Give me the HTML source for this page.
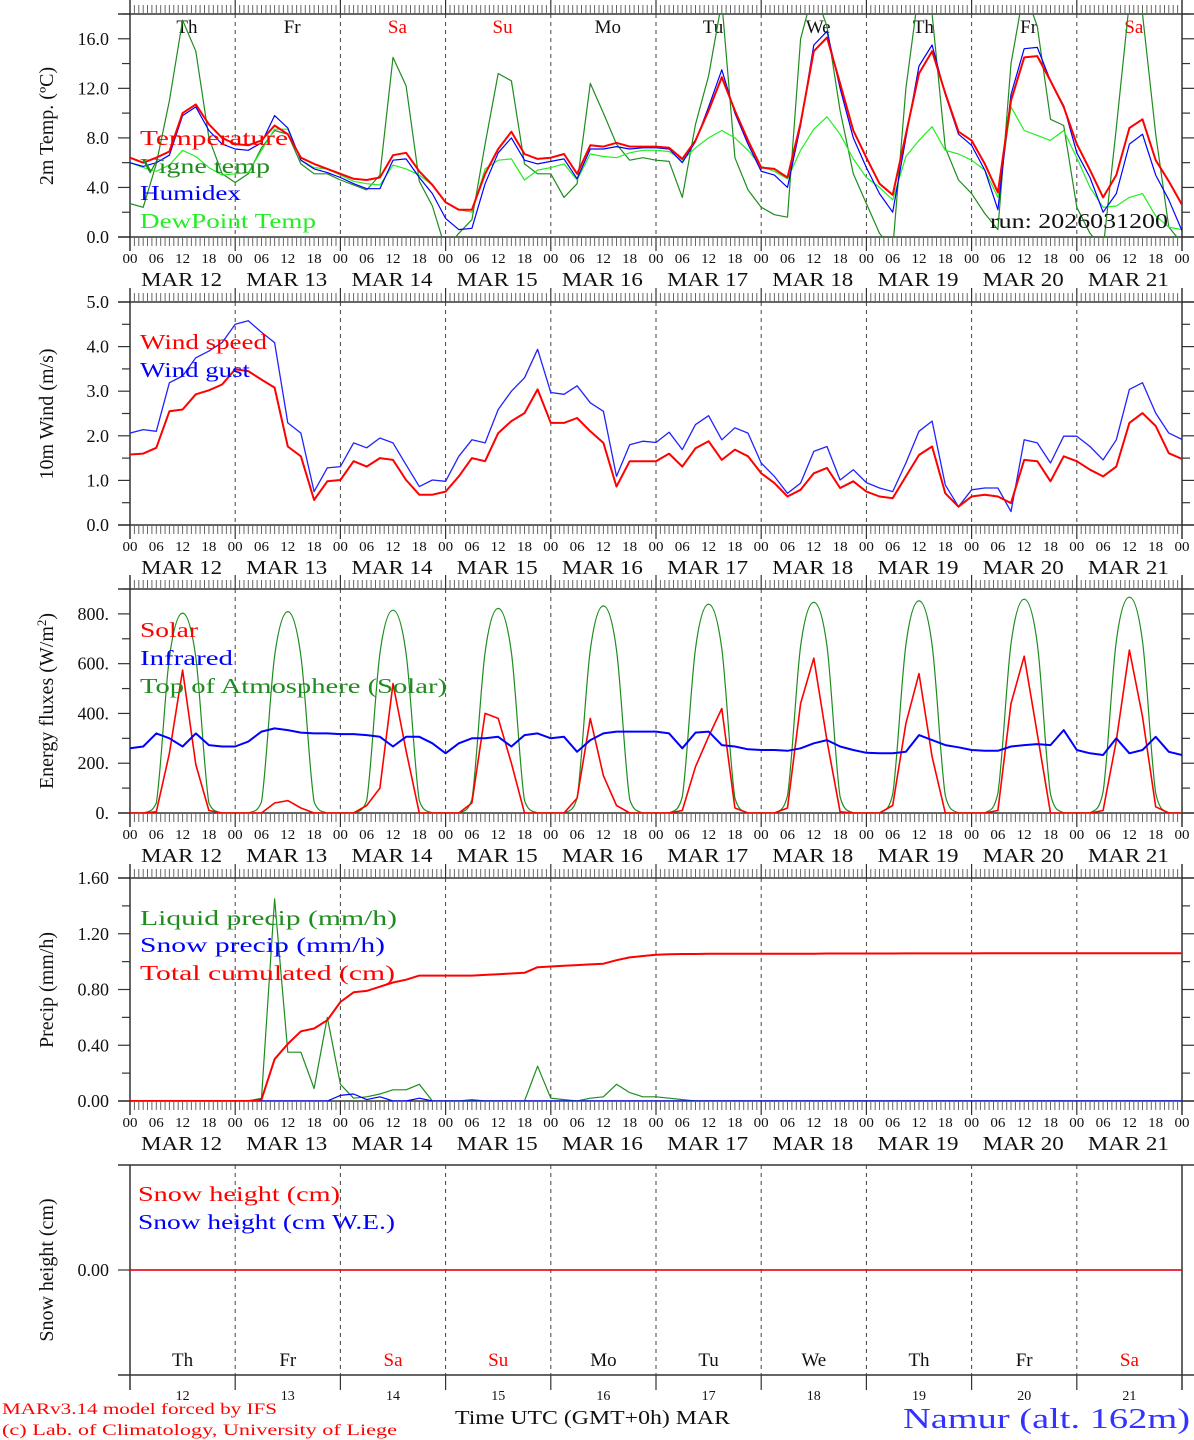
<!DOCTYPE html>
<html><head><meta charset="utf-8"><title>MAR meteogram Namur</title>
<style>
html,body{margin:0;padding:0;background:#fff;}
svg{display:block;font-family:"Liberation Serif","DejaVu Serif",serif;}
</style></head>
<body>
<svg id="chart" width="1194" height="1440" viewBox="0 0 1194 1440" xmlns="http://www.w3.org/2000/svg">
<defs>
<clipPath id="c1"><rect x="130" y="14" width="1052" height="223"/></clipPath>
<clipPath id="c2"><rect x="130" y="302" width="1052" height="223"/></clipPath>
<clipPath id="c3"><rect x="130" y="589" width="1052" height="224"/></clipPath>
<clipPath id="c4"><rect x="130" y="878" width="1052" height="223"/></clipPath>
<clipPath id="c5"><rect x="130" y="1165" width="1052" height="210"/></clipPath>
</defs>
<g id="root"></g>
</svg>
<script>
// ---- data (3-hourly, 81 points, Mar 12 00 UTC -> Mar 22 00 UTC) ----
const dayNames = ['Th','Fr','Sa','Su','Mo','Tu','We','Th','Fr','Sa'];
const dayNums = ['12','13','14','15','16','17','18','19','20','21'];
const hourLabels = ['00','06','12','18'];
const tempTicks = ['0.0','4.0','8.0','12.0','16.0'];
const windTicks = ['0.0','1.0','2.0','3.0','4.0','5.0'];
const fluxTicks = ['0.','200.','400.','600.','800.'];
const precTicks = ['0.00','0.40','0.80','1.20','1.60'];

const temperature = [6.4,6.0,6.4,6.9,10.0,10.7,9.1,8.0, 7.5,7.4,7.8,9.0,8.3,6.4,5.9,5.5, 5.1,4.7,4.6,4.8,6.6,6.8,5.3,4.2, 2.8,2.2,2.2,5.1,7.1,8.5,6.7,6.3, 6.4,6.7,5.1,7.4,7.3,7.6,7.3,7.3, 7.3,7.2,6.3,7.8,10.2,12.9,10.2,7.8, 5.6,5.5,4.8,9.2,15.0,16.1,12.4,8.6, 6.4,4.3,3.4,8.3,13.2,15.0,11.6,8.5, 7.8,5.9,3.6,11.0,14.5,14.6,12.6,10.5, 7.5,5.4,3.2,5.0,8.8,9.5,6.2,4.5, 2.6];
const vigneTemp = [2.7,2.4,5.9,11.0,17.5,15.0,8.0,5.1, 4.4,5.1,7.2,8.6,8.3,5.9,5.1,5.1, 4.6,4.2,3.8,5.0,14.5,12.2,4.5,2.5, -1.0,0.3,1.4,7.5,13.2,12.6,5.9,5.1, 5.1,3.2,4.3,12.4,10.0,7.5,6.2,6.4, 6.2,6.1,3.2,9.1,13.0,19.0,6.4,3.8, 2.4,1.8,1.6,16.0,20.0,17.0,10.2,5.1, 2.7,0.3,-1.0,12.0,20.0,18.0,7.2,4.6, 3.5,1.9,0.6,14.0,20.0,17.0,9.5,9.0, 2.4,0.3,-1.0,8.8,19.0,18.0,8.3,0.8, -0.5];
const humidex = [6.0,5.7,6.0,6.6,9.8,10.5,8.6,7.5, 7.1,7.0,7.6,9.8,8.8,6.2,5.5,5.2, 4.8,4.3,3.9,3.9,6.2,6.3,4.8,3.5, 1.5,0.6,0.7,4.3,6.8,8.0,6.2,5.9, 6.1,6.3,4.7,7.1,7.1,7.3,7.1,7.2, 7.2,7.1,6.0,7.7,10.5,13.5,10.0,7.5, 5.3,5.0,4.0,9.0,15.5,16.6,12.0,8.0, 5.6,3.5,2.0,8.0,13.8,15.5,11.5,8.3, 7.4,5.4,2.2,11.5,15.2,15.3,12.6,10.6, 6.8,4.8,2.0,3.5,7.5,8.3,5.0,3.0, 0.5];
const dewPoint = [6.0,5.6,5.3,5.8,7.0,6.5,5.6,5.0, 5.1,5.2,7.0,8.7,8.7,6.2,5.6,5.5, 5.0,4.5,4.3,4.2,5.8,5.5,5.0,4.2, 2.8,2.2,2.0,5.5,6.2,6.3,4.6,5.4, 5.6,5.9,4.6,6.7,6.5,6.4,6.8,7.0, 7.0,6.9,6.2,7.2,8.0,8.6,8.0,7.0, 5.7,5.3,4.7,7.0,8.7,9.7,8.3,6.3, 4.8,4.0,3.0,6.5,7.8,8.9,7.0,6.7, 6.2,5.4,3.2,10.5,8.6,8.2,7.8,8.6, 6.4,4.0,2.4,2.5,3.2,3.5,1.7,0.8, 0.6];

const windSpeed = [1.58,1.6,1.73,2.55,2.59,2.93,3.02,3.15, 3.49,3.45,3.26,3.08,1.76,1.54,0.56,0.98, 1.01,1.43,1.31,1.5,1.46,1.01,0.68,0.68, 0.75,1.09,1.5,1.43,2.06,2.33,2.51,3.04, 2.29,2.29,2.4,2.1,1.84,0.86,1.43,1.43, 1.43,1.6,1.31,1.72,1.88,1.46,1.69,1.54, 1.16,0.94,0.64,0.79,1.16,1.28,0.83,0.98, 0.75,0.64,0.6,1.09,1.57,1.76,0.71,0.41, 0.64,0.68,0.64,0.49,1.46,1.43,0.98,1.54, 1.43,1.24,1.09,1.31,2.29,2.51,2.22,1.61, 1.48];
const windGust = [2.06,2.14,2.1,3.19,3.34,3.75,3.9,4.09, 4.5,4.58,4.32,4.09,2.29,2.06,0.75,1.28, 1.31,1.84,1.73,1.95,1.84,1.35,0.86,1.01, 0.98,1.54,1.91,1.84,2.59,3.0,3.3,3.94, 2.97,2.93,3.12,2.74,2.55,1.09,1.8,1.88, 1.85,2.08,1.69,2.25,2.45,1.91,2.18,2.06, 1.39,1.09,0.71,0.94,1.65,1.76,1.01,1.24, 0.95,0.83,0.75,1.39,2.1,2.33,0.9,0.41, 0.79,0.83,0.83,0.3,1.91,1.84,1.39,1.99, 1.99,1.76,1.46,1.91,3.04,3.19,2.51,2.06, 1.92];

const solar = [0,0,5,240,574,195,10,0, 0,0,0,40,50,20,0,0, 0,0,30,100,520,250,0,0, 0,0,40,400,380,200,0,0, 0,0,60,380,150,30,0,0, 0,0,10,186,307,420,20,0, 0,0,20,440,622,290,5,0, 0,0,30,360,560,226,0,0, 0,0,10,440,630,318,0,0, 0,0,10,290,655,387,25,0, 0];
const infrared = [260,267,320,300,267,320,273,267, 267,287,327,340,333,323,320,320, 317,317,313,306,267,306,306,280, 240,280,300,300,306,267,313,320, 300,306,246,293,320,327,327,327, 327,320,260,323,327,273,267,256, 253,253,250,260,280,293,267,253, 242,240,240,246,313,293,273,264, 253,250,250,267,273,277,273,333, 253,240,233,300,240,253,306,246, 233];
const topOfAtmosphere = [0,0,40,625,803,625,40,0, 0,0,45,630,809,630,45,0, 0,0,50,640,815,640,50,0, 0,0,55,645,822,645,50,0, 0,0,60,655,832,655,55,0, 0,0,65,660,839,660,60,0, 0,0,70,670,846,670,65,0, 0,0,75,675,852,675,70,0, 0,0,80,680,859,680,75,0, 0,0,85,690,867,690,80,0, 0];

const liquidPrecip = [0,0,0,0,0,0,0,0, 0,0,0.02,1.45,0.35,0.35,0.09,0.6, 0.12,0.02,0.03,0.05,0.08,0.08,0.12,0, 0,0,0.01,0,0,0,0,0.25, 0.02,0.01,0,0.02,0.03,0.12,0.06,0.03, 0.03,0.02,0.01,0,0,0,0,0, 0,0,0,0,0,0,0,0, 0,0,0,0,0,0,0,0, 0,0,0,0,0,0,0,0, 0,0,0,0,0,0,0,0, 0];
const snowPrecip = [0,0,0,0,0,0,0,0, 0,0,0,0,0,0,0,0, 0.04,0.05,0.01,0.03,0,0,0.02,0, 0,0,0,0,0,0,0,0, 0,0,0,0,0,0,0,0, 0,0,0,0,0,0,0,0, 0,0,0,0,0,0,0,0, 0,0,0,0,0,0,0,0, 0,0,0,0,0,0,0,0, 0,0,0,0,0,0,0,0, 0];
const totalCumulated = [0,0,0,0,0,0,0,0, 0,0,0.01,0.3,0.41,0.5,0.52,0.58, 0.71,0.78,0.79,0.82,0.85,0.87,0.9,0.9, 0.9,0.9,0.9,0.905,0.91,0.915,0.92,0.96, 0.965,0.97,0.975,0.98,0.985,1.01,1.03,1.04, 1.05,1.053,1.055,1.055,1.056,1.056,1.056,1.056, 1.057,1.057,1.057,1.057,1.057,1.058,1.058,1.058, 1.058,1.058,1.058,1.059,1.059,1.059,1.059,1.059, 1.059,1.06,1.06,1.06,1.06,1.06,1.06,1.06, 1.06,1.06,1.06,1.06,1.06,1.06,1.06,1.06, 1.06];
const snowHeight = [0,0,0,0,0,0,0,0, 0,0,0,0,0,0,0,0, 0,0,0,0,0,0,0,0, 0,0,0,0,0,0,0,0, 0,0,0,0,0,0,0,0, 0,0,0,0,0,0,0,0, 0,0,0,0,0,0,0,0, 0,0,0,0,0,0,0,0, 0,0,0,0,0,0,0,0, 0,0,0,0,0,0,0,0, 0];

// ---- layout ----
const NS = 'http://www.w3.org/2000/svg';
const root = document.getElementById('root');
const X0 = 130, X1 = 1182, NPTS = 81;
function xIdx(i){ return X0 + i * (X1 - X0) / (NPTS - 1); }
function xHour(h){ return X0 + h * (X1 - X0) / 240; }
const panels = [
  {id:'temp', top:14, bot:237, min:0, max:18, clip:'c1'},
  {id:'wind', top:302, bot:525, min:0, max:5, clip:'c2'},
  {id:'flux', top:589, bot:813, min:0, max:900, clip:'c3'},
  {id:'precip', top:878, bot:1101, min:0, max:1.6, clip:'c4'},
  {id:'snow', top:1165, bot:1375, min:-1, max:1, clip:'c5'}
];
function yOf(p, v){ return p.bot - (v - p.min) / (p.max - p.min) * (p.bot - p.top); }

function mk(tag, attrs, parent){
  const e = document.createElementNS(NS, tag);
  for (const k in attrs) e.setAttribute(k, attrs[k]);
  (parent || root).appendChild(e);
  return e;
}
function txt(s, x, y, size, fill, opts, name){
  opts = opts || {};
  const e = mk('text', {x:x, y:y, 'font-size':size, fill:fill, 'text-anchor':opts.anchor || 'start'});
  if (opts.len){ e.setAttribute('textLength', opts.len); e.setAttribute('lengthAdjust', 'spacingAndGlyphs'); }
  if (opts.rot) e.setAttribute('transform', 'rotate(-90 ' + x + ' ' + y + ')');
  e.textContent = s;
  
  
  return e;
}
function linePath(p, arr, color, w, name, smooth){
  let d = '';
  const pts = arr.map((v, i) => [xIdx(i), yOf(p, v)]);
  if (!smooth){
    pts.forEach((q, i) => { d += (i ? 'L' : 'M') + q[0].toFixed(1) + ' ' + q[1].toFixed(1); });
  } else {
    d = 'M' + pts[0][0] + ' ' + pts[0][1];
    for (let i = 0; i < pts.length - 1; i++){
      const p0 = pts[Math.max(0, i - 1)], p1 = pts[i], p2 = pts[i + 1], p3 = pts[Math.min(pts.length - 1, i + 2)];
      let c1y = p1[1] + (p2[1] - p0[1]) / 6, c2y = p2[1] - (p3[1] - p1[1]) / 6;
      const lim = yOf(p, 0);
      c1y = Math.min(c1y, lim); c2y = Math.min(c2y, lim);
      d += 'C' + (p1[0] + (p2[0] - p0[0]) / 6).toFixed(1) + ' ' + c1y.toFixed(1) + ' ' + (p2[0] - (p3[0] - p1[0]) / 6).toFixed(1) + ' ' + c2y.toFixed(1) + ' ' + p2[0].toFixed(1) + ' ' + p2[1].toFixed(1);
    }
  }
  const e = mk('path', {d:d, fill:'none', stroke:color, 'stroke-width':w, 'clip-path':'url(#' + p.clip + ')', 'stroke-linejoin':'round'});
  
  
  return e;
}

// ---- frames, ticks, day separators ----
panels.forEach((p, pi) => {
  const g = mk('g', {});
  
  
  mk('line', {x1:118, y1:p.top, x2:1194, y2:p.top, stroke:'#333', 'stroke-width':1.5}, g);
  mk('line', {x1:118, y1:p.bot, x2:1194, y2:p.bot, stroke:'#333', 'stroke-width':1.5}, g);
  mk('line', {x1:X0, y1:p.top - (pi === 4 ? 0 : 14), x2:X0, y2:p.bot + (pi === 4 ? 15 : 14), stroke:'#333', 'stroke-width':1.5}, g);
  mk('line', {x1:X1, y1:p.top - (pi === 4 ? 0 : 14), x2:X1, y2:p.bot + (pi === 4 ? 15 : 14), stroke:'#333', 'stroke-width':1.5}, g);
  for (let d = 1; d < 10; d++){
    const x = xHour(d * 24);
    mk('line', {x1:x, y1:p.top, x2:x, y2:p.bot, stroke:'#444', 'stroke-width':1, 'stroke-dasharray':'4,4'}, g);
    mk('line', {x1:x, y1:p.top - (pi === 4 ? 0 : 14), x2:x, y2:p.top, stroke:'#333', 'stroke-width':1.2}, g);
    mk('line', {x1:x, y1:p.bot, x2:x, y2:p.bot + (pi === 4 ? 15 : 14), stroke:'#333', 'stroke-width':1.2}, g);
  }
  if (pi < 4){
    let d = '';
    for (let h = 1; h < 240; h++){
      if (h % 24 === 0) continue;
      const x = xHour(h).toFixed(1);
      d += 'M' + x + ' ' + (p.top - 9) + 'V' + p.top + 'M' + x + ' ' + p.bot + 'V' + (p.bot + 9);
    }
    mk('path', {d:d, stroke:'#666', 'stroke-width':1}, g);
    // hour and date labels
    for (let day = 0; day <= 10; day++){
      for (let k = 0; k < 4; k++){
        if (day === 10 && k > 0) break;
        txt(hourLabels[k], xHour(day * 24 + k * 6), p.bot + 26, 14, '#111', {anchor:'middle', len:15}, 'hour-tick-label');
      }
      if (day < 10) txt('MAR ' + dayNums[day], xHour(day * 24 + 12) - 1, p.bot + 49, 20, '#111', {anchor:'middle', len:81}, 'date-label');
    }
  }
});

// y ticks
function yTicks(p, labels, step, minor){
  for (let v = p.min; v <= p.max + 1e-9; v += minor){
    const y = yOf(p, v);
    const isMajor = Math.abs(v / step - Math.round(v / step)) < 1e-6;
    mk('line', {x1:isMajor ? 118 : 122, y1:y, x2:X0, y2:y, stroke:'#333', 'stroke-width':1.2});
    mk('line', {x1:X1, y1:y, x2:isMajor ? 1194 : 1190, y2:y, stroke:'#333', 'stroke-width':1.2});
  }
  labels.forEach((s, i) => {
    txt(s, 109, yOf(p, i * step) + 6, 18, '#111', {anchor:'end'}, 'y-tick-label');
  });
}
yTicks(panels[0], tempTicks, 4, 2);
yTicks(panels[1], windTicks, 1, 0.5);
yTicks(panels[2], fluxTicks, 200, 100);
yTicks(panels[3], precTicks, 0.4, 0.2);
mk('line', {x1:118, y1:1270, x2:X0, y2:1270, stroke:'#333', 'stroke-width':1.2});
txt('0.00', 109, 1276, 18, '#111', {anchor:'end'}, 'y-tick-label');

// y titles
txt('2m Temp. (\u00BAC)', 53, 126, 20, '#111', {anchor:'middle', rot:true}, 'y-axis-title-temp');
txt('10m Wind (m/s)', 53, 414, 20, '#111', {anchor:'middle', rot:true}, 'y-axis-title-wind');
const ft = txt('Energy fluxes (W/m', 53, 701, 20, '#111', {anchor:'middle', rot:true}, 'y-axis-title-flux');
const sup = document.createElementNS(NS, 'tspan'); sup.setAttribute('dy', '-7'); sup.setAttribute('font-size', '13'); sup.textContent = '2';
ft.appendChild(sup);
const cl = document.createElementNS(NS, 'tspan'); cl.setAttribute('dy', '7'); cl.textContent = ')';
ft.appendChild(cl);
txt('Precip (mm/h)', 53, 990, 20, '#111', {anchor:'middle', rot:true}, 'y-axis-title-precip');
txt('Snow height (cm)', 53, 1270, 20, '#111', {anchor:'middle', rot:true}, 'y-axis-title-snow');

// day names
dayNames.forEach((n, i) => {
  const col = (n === 'Sa' || n === 'Su') ? '#ff0000' : '#111';
  txt(n, xHour(i * 24 + 13), 33, 19, col, {anchor:'middle'}, 'weekday-label');
  txt(n, xHour(i * 24 + 12), 1366, 19, col, {anchor:'middle'}, 'weekday-label');
  txt(dayNums[i], xHour(i * 24 + 12), 1400, 14, '#111', {anchor:'middle'}, 'day-number');
});

// ---- series ----
const P = panels;
linePath(P[0], vigneTemp, '#1e8c1e', 1.2, 'vigne-temp-line');
linePath(P[0], dewPoint, '#22ee22', 1.2, 'dewpoint-line');
linePath(P[0], humidex, '#0000ff', 1.2, 'humidex-line');
linePath(P[0], temperature, '#ff0000', 2, 'temperature-line');

linePath(P[1], windGust, '#2222ff', 1.3, 'wind-gust-line');
linePath(P[1], windSpeed, '#ff0000', 2, 'wind-speed-line');

linePath(P[2], topOfAtmosphere, '#1e8c1e', 1.2, 'toa-solar-line', true);
linePath(P[2], solar, '#ff0000', 1.6, 'solar-line');
linePath(P[2], infrared, '#0000ff', 2, 'infrared-line');

linePath(P[3], liquidPrecip, '#1e8c1e', 1.2, 'liquid-precip-line');
linePath(P[3], snowPrecip, '#0000ff', 1.2, 'snow-precip-line');
linePath(P[3], totalCumulated, '#ff0000', 2, 'total-cumulated-line');

linePath(P[4], snowHeight, '#0000ff', 1.2, 'snow-height-we-line');
linePath(P[4], snowHeight, '#ff0000', 1.6, 'snow-height-line');

// ---- legends ----
txt('Temperature', 140, 145, 21, '#ff0000', {len:148}, 'legend-temperature');
txt('Vigne temp', 140, 173, 21, '#1e8c1e', {len:130}, 'legend-vigne-temp');
txt('Humidex', 140, 200, 21, '#0000ff', {len:101}, 'legend-humidex');
txt('DewPoint Temp', 140, 228, 21, '#22ee22', {len:176}, 'legend-dewpoint');
txt('run: 2026031200', 990, 228, 21, '#111', {len:178}, 'run-label');

txt('Wind speed', 140, 349, 21, '#ff0000', {len:127}, 'legend-wind-speed');
txt('Wind gust', 140, 377, 21, '#0000ff', {len:110}, 'legend-wind-gust');

txt('Solar', 140, 637, 21, '#ff0000', {len:58}, 'legend-solar');
txt('Infrared', 140, 665, 21, '#0000ff', {len:93}, 'legend-infrared');
txt('Top of Atmosphere (Solar)', 140, 693, 21, '#1e8c1e', {len:307}, 'legend-toa');

txt('Liquid precip (mm/h)', 140, 925, 21, '#1e8c1e', {len:257}, 'legend-liquid-precip');
txt('Snow precip (mm/h)', 140, 952, 21, '#0000ff', {len:245}, 'legend-snow-precip');
txt('Total cumulated (cm)', 140, 980, 21, '#ff0000', {len:255}, 'legend-total-cumulated');

txt('Snow height (cm)', 138, 1201, 21, '#ff0000', {len:202}, 'legend-snow-height');
txt('Snow height (cm W.E.)', 138, 1229, 21, '#0000ff', {len:257}, 'legend-snow-height-we');

// ---- footer ----
txt('Time UTC (GMT+0h) MAR', 455, 1424, 20, '#111', {len:275}, 'x-axis-title');
txt('Namur (alt. 162m)', 903, 1428, 29, '#3333ff', {len:287}, 'station-title');
txt('MARv3.14 model forced by IFS', 2, 1414, 16, '#ff0000', {len:275}, 'model-credit');
txt('(c) Lab. of Climatology, University of Liege', 2, 1435, 16, '#ff0000', {len:395}, 'lab-credit');
</script>
</body></html>
